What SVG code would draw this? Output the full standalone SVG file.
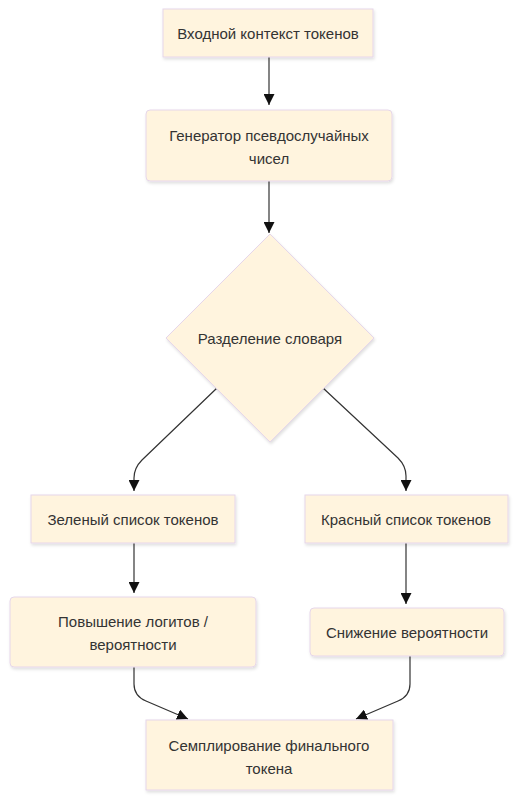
<svg xmlns="http://www.w3.org/2000/svg" width="518" height="800" viewBox="0 0 518 800">
<style>
.n{fill:#fff4de;stroke:#e6d6ea;stroke-width:1;filter:url(#sh)}
.t{font-family:"Liberation Sans",Arial,sans-serif;font-size:15px;fill:#333;text-anchor:middle;dominant-baseline:central}
.e{fill:none;stroke:#333;stroke-width:1.2}
</style>
<defs>
<marker id="ah" viewBox="0 0 10 10" refX="10" refY="5" markerWidth="11" markerHeight="11" markerUnits="userSpaceOnUse" orient="auto"><path d="M0,0L10,5L0,10z" fill="#111"/></marker>
<filter id="sh" x="-10%" y="-10%" width="120%" height="130%"><feDropShadow dx="1" dy="2" stdDeviation="1.5" flood-color="#000" flood-opacity="0.12"/></filter>
</defs>
<rect width="518" height="800" fill="#fff"/>
<g id="connectors">
<path class="e" d="M269,57V105" marker-end="url(#ah)"/>
<path class="e" d="M269,181V233" marker-end="url(#ah)"/>
<path class="e" d="M217,388L142,460Q134,468 134,478V491" marker-end="url(#ah)"/>
<path class="e" d="M323,388L398,458Q406,466 406,476V491" marker-end="url(#ah)"/>
<path class="e" d="M134,543V593" marker-end="url(#ah)"/>
<path class="e" d="M406,543V604" marker-end="url(#ah)"/>
<path class="e" d="M134,667V684Q134,696 146,701L188,719" marker-end="url(#ah)"/>
<path class="e" d="M410,656V684Q410,696 398,701L356,719" marker-end="url(#ah)"/>
</g>
<g id="n1"><rect class="n" x="163" y="9" width="210" height="48"/><text class="t" x="268" y="33">Входной контекст токенов</text></g>
<g id="n2"><rect class="n" x="146" y="110" width="246" height="71" rx="4"/><text class="t" x="269" y="135">Генератор псевдослучайных</text><text class="t" x="269" y="158">чисел</text></g>
<g id="n3"><path class="n" d="M270,234L374,338L270,442L166,338Z"/><text class="t" x="270" y="338">Разделение словаря</text></g>
<g id="n4"><rect class="n" x="31" y="495" width="204" height="48"/><text class="t" x="133" y="519">Зеленый список токенов</text></g>
<g id="n5"><rect class="n" x="305" y="495" width="203" height="48"/><text class="t" x="406" y="519">Красный список токенов</text></g>
<g id="n6"><rect class="n" x="10" y="597" width="246" height="70" rx="4"/><text class="t" x="133" y="621">Повышение логитов /</text><text class="t" x="133" y="644">вероятности</text></g>
<g id="n7"><rect class="n" x="310" y="608" width="194" height="48" rx="4"/><text class="t" x="407" y="632">Снижение вероятности</text></g>
<g id="n8"><rect class="n" x="146" y="720" width="247" height="70"/><text class="t" x="269" y="745">Семплирование финального</text><text class="t" x="269" y="768">токена</text></g>
</svg>
